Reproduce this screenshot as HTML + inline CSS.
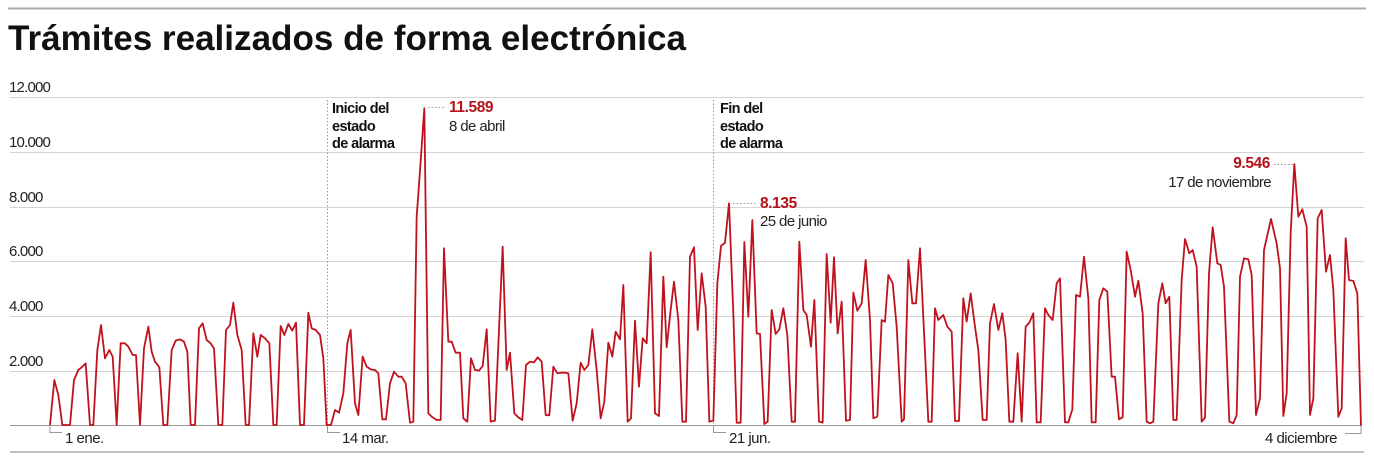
<!DOCTYPE html>
<html><head><meta charset="utf-8"><style>
html,body{margin:0;padding:0;background:#fff;}
svg{display:block;}
text{font-family:"Liberation Sans",sans-serif;}
</style></head><body>
<svg width="1374" height="458" viewBox="0 0 1374 458" xmlns="http://www.w3.org/2000/svg">
<line x1="8" y1="8.5" x2="1366" y2="8.5" stroke="#aaa" stroke-width="2"/>
<text x="8" y="50" font-size="35" font-weight="bold" fill="#111" textLength="678" lengthAdjust="spacingAndGlyphs">Trámites realizados de forma electrónica</text>
<g stroke="#d4d4d4" stroke-width="1">
<line x1="10" y1="97.5" x2="1364" y2="97.5"/>
<line x1="10" y1="152.5" x2="1364" y2="152.5"/>
<line x1="10" y1="207.5" x2="1364" y2="207.5"/>
<line x1="10" y1="261.5" x2="1364" y2="261.5"/>
<line x1="10" y1="316.5" x2="1364" y2="316.5"/>
<line x1="10" y1="371.5" x2="1364" y2="371.5"/>
</g>
<line x1="10" y1="425.5" x2="1362" y2="425.5" stroke="#999" stroke-width="1"/>
<line x1="10" y1="452" x2="1364" y2="452" stroke="#aaa" stroke-width="1.5"/>
<g font-size="15" fill="#222" letter-spacing="-0.8">
<text x="9" y="92">12.000</text>
<text x="9" y="147">10.000</text>
<text x="9" y="202">8.000</text>
<text x="9" y="256">6.000</text>
<text x="9" y="311">4.000</text>
<text x="9" y="366">2.000</text>
</g>
<g stroke="#999" stroke-width="1" fill="none">
<polyline points="50,426 50,432.5 62,432.5"/>
<polyline points="1361,426 1361,433.5 1345,433.5"/>
<line x1="327.5" y1="100" x2="327.5" y2="432" stroke-dasharray="1.5,2"/>
<polyline points="327.5,426 327.5,432.5 340,432.5"/>
<line x1="713.5" y1="100" x2="713.5" y2="432" stroke-dasharray="1.5,2"/>
<polyline points="713.5,426 713.5,432.5 726,432.5"/>
<line x1="428" y1="107.5" x2="446" y2="107.5" stroke-dasharray="1.5,2"/>
<line x1="733" y1="203.5" x2="757" y2="203.5" stroke-dasharray="1.5,2"/>
<line x1="1274" y1="164.5" x2="1294" y2="164.5" stroke-dasharray="1.5,2"/>
</g>
<g font-size="15" fill="#222" letter-spacing="-0.5">
<text x="65" y="443">1 ene.</text>
<text x="342" y="443">14 mar.</text>
<text x="729" y="443">21 jun.</text>
<text x="1337" y="443" text-anchor="end">4 diciembre</text>
</g>
<g font-size="14.5" font-weight="bold" fill="#111" letter-spacing="-0.6">
<text x="332" y="113">Inicio del</text>
<text x="332" y="131">estado</text>
<text x="332" y="148">de alarma</text>
<text x="720" y="113">Fin del</text>
<text x="720" y="131">estado</text>
<text x="720" y="148">de alarma</text>
</g>
<g font-size="15.5" font-weight="bold" fill="#b5121b" letter-spacing="-0.4">
<text x="449" y="112">11.589</text>
<text x="760" y="208">8.135</text>
<text x="1270" y="168" text-anchor="end">9.546</text>
</g>
<g font-size="15" fill="#222" letter-spacing="-0.6">
<text x="449" y="131">8 de abril</text>
<text x="760" y="226">25 de junio</text>
<text x="1271" y="187" text-anchor="end">17 de noviembre</text>
</g>
<g fill="none" stroke="#c0121c" stroke-width="1.8" stroke-linejoin="round">
<g transform="translate(0,280) scale(0.333333)">
<polyline vector-effect="non-scaling-stroke" points="150,435 163,300 175,345 187,435 210,435 222,300 235,270 245,262 257,250 270,435 280,435 292,210 303,135 315,235 328,210 338,230 350,435 362,190 375,190 385,200 398,225 408,225 420,435 432,205 445,140 455,215 465,245 478,262 490,435 502,435 515,210 527,182 540,178 552,185 562,215 572,435 585,435 597,145 608,130 620,180 632,190 642,205 655,435 667,435 678,150 690,135 700,68 712,165 725,210 737,435 747,435 760,160 772,230 782,165 795,175 808,190 820,435 830,435 842,138 853,165 865,132 877,152 888,128 900,435 912,435 925,98 935,145 947,150 960,165 970,235 980,435 993,435 1005,390 1017,398 1030,340 1042,190 1052,150 1065,370 1075,405 1088,230 1100,260 1112,268 1125,270 1135,280 1147,418 1158,418 1170,310 1182,275 1195,290 1205,290 1217,310 1230,428 1240,426"/>
</g>
<g transform="translate(400,90) scale(0.333333)">
<polyline vector-effect="non-scaling-stroke" points="40,996 50,380 58,270 73,55 85,970 95,980 110,990 122,990 132,475 145,755 155,755 167,788 180,788 190,985 202,995 213,805 225,840 237,842 248,828 260,718 272,995 285,992 308,470 320,840 330,788 343,970 355,982 367,990 378,825 390,815 402,817 413,802 425,815 437,975 448,976 460,830 472,850 485,848 495,848 505,850 518,992 530,940 542,818 553,840 565,825 577,718 590,840 602,985 613,935 625,758 637,800 647,725 660,748 670,585 683,995 693,985 705,692 717,890 728,745 740,760 752,487 765,970 777,978 790,560 800,772 812,660 822,575 835,690 847,995 858,995 870,500 882,472 893,720 905,550 917,650 928,995 940,992 952,580 963,468 975,458 987,340 1000,670 1010,998 1022,998 1033,456 1045,680 1057,390 1070,730 1080,732 1093,1002 1103,995 1115,660 1127,732 1138,718 1150,655 1162,735 1175,995 1185,995 1198,455 1210,660 1220,675 1233,770 1243,630 1257,995 1268,998 1280,492 1292,698 1302,502 1313,730 1325,635 1338,992 1350,990 1360,608 1372,662 1385,640 1397,510 1410,690 1420,985 1432,980"/>
</g>
<g transform="translate(870,140) scale(0.333333)">
<polyline vector-effect="non-scaling-stroke" points="22,830 35,540 45,545 55,405 68,430 80,560 95,845 102,838 115,360 127,490 138,490 150,325 175,845 185,845 195,505 205,540 220,525 232,560 245,575 255,843 267,843 280,475 290,545 302,460 315,560 325,630 338,840 350,840 360,550 372,492 385,570 397,520 407,600 418,845 430,845 443,640 455,845 467,560 478,548 490,520 500,847 512,847 525,505 535,525 548,540 560,430 570,415 585,847 595,847 607,808 618,465 630,470 642,350 655,475 665,847 677,847 688,480 700,445 712,455 725,710 735,710 747,838 758,832 770,335 782,390 795,470 805,422 818,520 830,845 840,850 850,845 865,490 877,430 887,490 898,470 910,840 920,840 935,420 945,297 958,340 968,330 980,380 995,845 1005,833 1017,400 1028,262 1042,370 1052,375 1062,440 1078,845 1090,850 1100,825 1110,410 1122,355 1135,358 1145,405 1158,825 1170,775 1182,330 1203,237 1220,310 1230,385 1240,828 1250,760 1262,280 1273,72 1285,230 1297,208 1310,260 1320,825 1330,775 1343,235 1355,210 1368,395 1380,345 1390,450 1405,830 1415,805 1427,295 1437,420 1450,423 1462,460 1473,857"/>
</g>
</g>
</svg>
</body></html>
